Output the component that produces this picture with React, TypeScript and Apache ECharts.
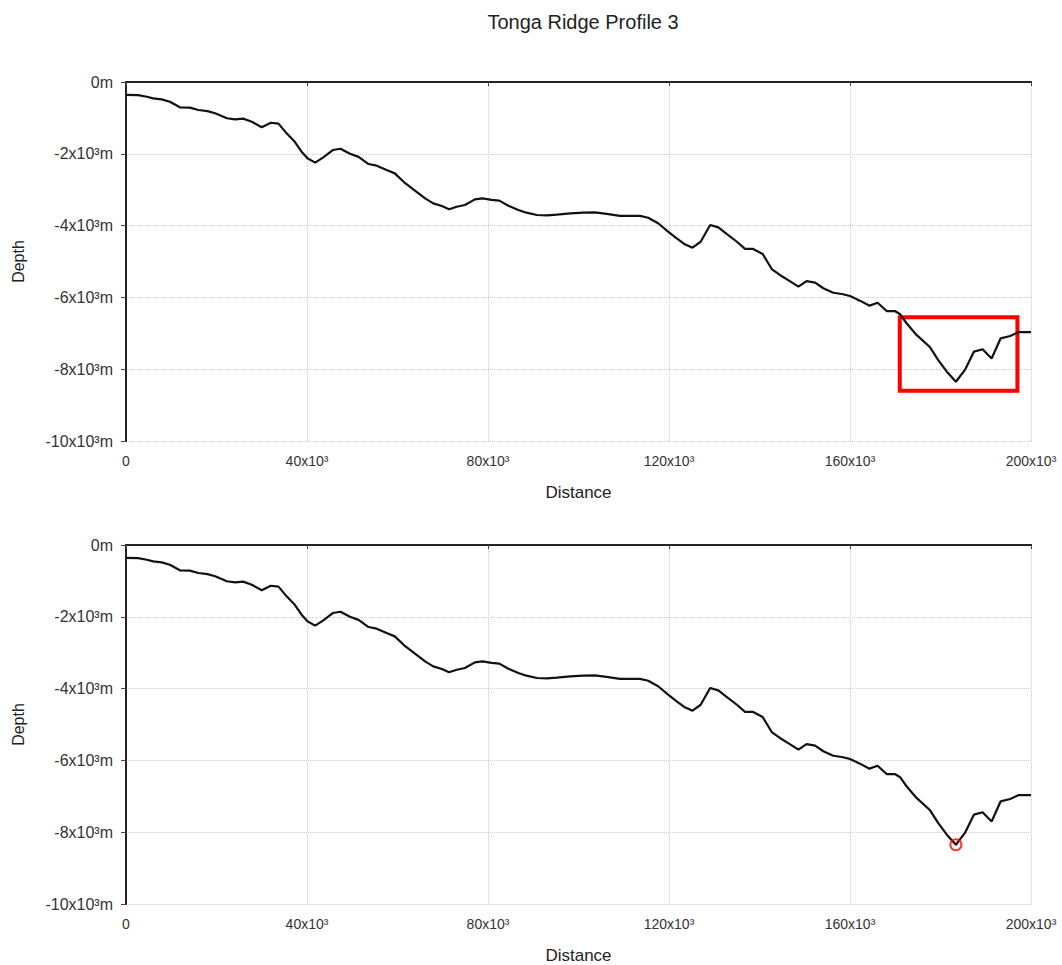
import React, { useEffect, useRef } from "react";
import * as echarts from "echarts";

const distanceKm: number[] = [
  0, 2.7, 4.6, 6.0, 7.9, 9.7, 11.9, 14.1, 16.0, 18.0, 19.7, 22.3, 24.1, 25.9, 27.8, 30.0, 32.0, 33.7,
  35.5, 37.3, 38.8, 40.1, 41.8, 43.6, 45.7, 47.4, 49.5, 51.4, 53.6, 55.4, 57.6, 59.4, 61.7, 63.5,
  66.1, 67.9, 69.8, 71.4, 73.1, 74.9, 77.1, 78.8, 80.8, 82.5, 84.5, 86.7, 88.5, 90.8, 93.0, 95.2,
  98.2, 101.1, 103.6, 106.2, 109.2, 113.6, 115.4, 117.6, 119.8, 121.7, 123.5, 125.2, 127.0, 129.1,
  130.9, 132.8, 135.0, 136.8, 138.6, 140.7, 142.7, 144.5, 146.7, 148.6, 150.4, 152.3, 154.1, 156.3,
  158.2, 160.0, 162.2, 164.3, 166.1, 168.1, 169.9, 171.1, 172.5, 174.7, 177.7, 179.5, 181.4, 183.4,
  185.4, 187.4, 189.3, 191.3, 193.3, 195.4, 197.2, 200.0,
];

const depthM: number[] = [
  -360, -365, -410, -455, -485, -550, -705, -715, -780, -810, -870, -1010, -1040, -1020, -1105, -1260,
  -1135, -1160, -1430, -1665, -1940, -2125, -2245, -2100, -1895, -1860, -2000, -2085, -2285, -2330,
  -2450, -2545, -2820, -2990, -3240, -3380, -3455, -3545, -3475, -3425, -3270, -3240, -3285, -3305,
  -3445, -3565, -3640, -3705, -3715, -3695, -3660, -3640, -3630, -3675, -3730, -3730, -3780, -3935,
  -4170, -4355, -4520, -4615, -4450, -3985, -4050, -4235, -4450, -4650, -4650, -4790, -5210, -5375,
  -5545, -5700, -5545, -5590, -5745, -5870, -5905, -5960, -6090, -6230, -6150, -6380, -6380, -6470,
  -6720, -7045, -7390, -7745, -8070, -8350, -8020, -7510, -7445, -7700, -7140, -7075, -6970, -6970,
];

// highlighted region (top) and deepest point (bottom)
const boxCorners: [number, number][] = [
  [171000, -6550],
  [197000, -8600],
];
const deepestPoint: [number, number] = [183400, -8350];

const title = "Tonga Ridge Profile 3";
const xName = "Distance";
const yName = "Depth";

const fmtX = (v: number) => (v === 0 ? "0" : `${v / 1000}x10³`);
const fmtY = (v: number) => (v === 0 ? "0m" : `${v / 1000}x10³m`);

const FONT = "'Liberation Sans', Arial, sans-serif";

export default function App() {
  const ref = useRef<HTMLDivElement>(null);

  useEffect(() => {
    document.body.style.margin = "0";
    if (!ref.current) return;
    const chart = echarts.init(ref.current, undefined, { renderer: "svg" });
    const points = distanceKm.map((d, i) => [d * 1000, depthM[i]]);

    const grids = [
      { left: 126, top: 82, width: 905, height: 359 },
      { left: 126, top: 545, width: 905, height: 359 },
    ];

    const xAxes: any[] = [];
    const yAxes: any[] = [];
    grids.forEach((_, gi) => {
      xAxes.push({
        type: "value",
        gridIndex: gi,
        min: 0,
        max: 200000,
        interval: 40000,
        name: xName,
        nameLocation: "middle",
        nameGap: 43,
        nameTextStyle: { fontFamily: FONT, fontSize: 17, color: "#222" },
        axisLine: { show: true, lineStyle: { color: "#222", width: 2, type: [2, 1] } },
        axisTick: { show: true, length: 4, lineStyle: { color: "#444" } },
        axisLabel: { formatter: fmtX, fontFamily: FONT, fontSize: 14, color: "#333", margin: 13 },
        splitLine: { show: true, lineStyle: { color: "#ccc", type: "dotted", width: 1 } },
      });
      xAxes.push({
        type: "value",
        gridIndex: gi,
        position: "top",
        min: 0,
        max: 200000,
        axisLine: { show: true, lineStyle: { color: "#222", width: 2 } },
        axisTick: { show: false },
        axisLabel: { show: false },
        splitLine: { show: false },
      });
      yAxes.push({
        type: "value",
        gridIndex: gi,
        min: -10000,
        max: 0,
        interval: 2000,
        name: yName,
        nameLocation: "middle",
        nameGap: 100,
        nameTextStyle: { fontFamily: FONT, fontSize: 16, color: "#222" },
        axisLine: { show: true, lineStyle: { color: "#222", width: 2 } },
        axisTick: { show: true, length: 5, lineStyle: { color: "#444" } },
        axisLabel: { formatter: fmtY, fontFamily: FONT, fontSize: 16, color: "#333", margin: 13 },
        splitLine: { show: true, lineStyle: { color: "#ccc", type: "dotted", width: 1 } },
      });
      yAxes.push({
        type: "value",
        gridIndex: gi,
        position: "right",
        min: -10000,
        max: 0,
        axisLine: { show: true, lineStyle: { color: "#222", width: 2 } },
        axisTick: { show: false },
        axisLabel: { show: false },
        splitLine: { show: false },
      });
    });

    const option: any = {
      animation: false,
      backgroundColor: "#fff",
      title: {
        text: title,
        left: 578,
        top: 7,
        textAlign: "center",
        textStyle: { fontFamily: FONT, fontSize: 20, fontWeight: "normal", color: "#222" },
      },
      grid: grids,
      xAxis: xAxes,
      yAxis: yAxes,
      series: [
        {
          type: "line",
          xAxisIndex: 0,
          yAxisIndex: 0,
          data: points,
          showSymbol: false,
          lineStyle: { color: "#111", width: 2.2 },
          z: 3,
          markArea: {
            silent: true,
            itemStyle: { color: "rgba(0,0,0,0)", borderColor: "#f00", borderWidth: 4 },
            data: [[{ coord: boxCorners[0] }, { coord: boxCorners[1] }]],
          },
        },
        {
          type: "line",
          xAxisIndex: 2,
          yAxisIndex: 2,
          data: points,
          showSymbol: false,
          lineStyle: { color: "#111", width: 2.2 },
          z: 3,
        },
        {
          type: "scatter",
          xAxisIndex: 2,
          yAxisIndex: 2,
          data: [deepestPoint],
          symbol: "circle",
          symbolSize: 11,
          itemStyle: { color: "rgba(0,0,0,0)", borderColor: "#f00", borderWidth: 2 },
          z: 4,
        },
      ],
    };
    chart.setOption(option);
    return () => chart.dispose();
  }, []);

  return <div ref={ref} style={{ width: 1062, height: 965 }} />;
}
